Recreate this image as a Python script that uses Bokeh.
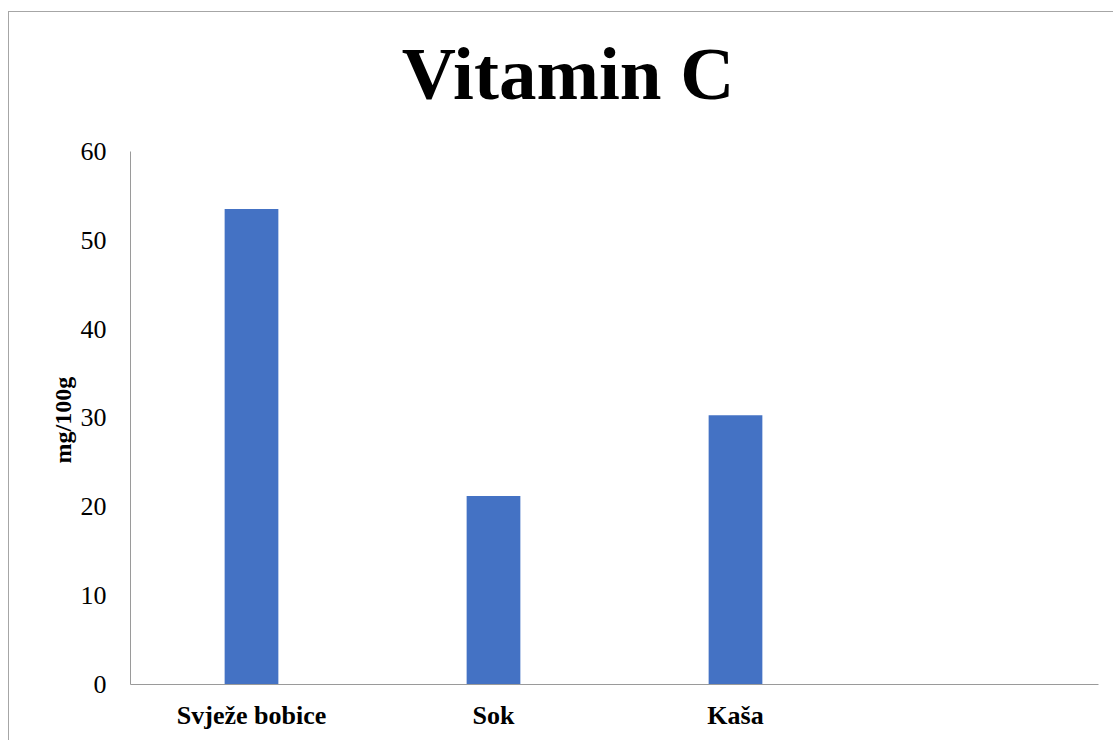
from bokeh.plotting import figure
from bokeh.models import ColumnDataSource, FactorRange, Range1d, FixedTicker, Label, Title
from bokeh.embed import file_html
from bokeh.resources import INLINE

categories = ["Svježe bobice", "Sok", "Kaša"]
values = [53.5, 21.2, 30.3]
axis_factors = categories + [" "]
y_ticks = [0, 10, 20, 30, 40, 50, 60]
title_text = "Vitamin C"
y_label = "mg/100g"

FONT = "Liberation Serif"

src = ColumnDataSource(data=dict(cat=categories, val=values))

# the frame reaches above 60 to hold the title; axis line is bounded to 0..60
p = figure(
    width=1105, height=729,
    x_range=FactorRange(factors=axis_factors, range_padding=0),
    y_range=Range1d(0, 74.5),
    output_backend="svg", toolbar_location=None,
    min_border_left=121, min_border_right=16, min_border_top=10, min_border_bottom=57,
    styles={"border-top": "1px solid #a6a6a6", "border-left": "1px solid #a6a6a6",
            "margin-top": "11px", "margin-left": "8px"},
)

p.vbar(x="cat", top="val", width=0.222, source=src, color="#4472C4", line_color=None)

p.add_layout(Label(
    x=1.808, y=68.8, text=title_text,
    text_font=FONT, text_font_style="bold", text_font_size="75px",
    text_color="black", text_align="center", text_baseline="alphabetic",
))

# y-axis title, centred on the 0..60 part of the axis
p.add_layout(Title(
    text=y_label, align="left", offset=221, standoff=3,
    text_font=FONT, text_font_style="bold", text_font_size="24px",
    text_color="black",
), "left")

p.outline_line_color = None
p.xgrid.grid_line_color = None
p.ygrid.grid_line_color = None
p.background_fill_color = "white"
p.border_fill_color = "white"

ya = p.yaxis[0]
ya.ticker = FixedTicker(ticks=y_ticks)
ya.bounds = (0, 60)
ya.axis_line_color = "#9a9a9a"
ya.major_tick_line_color = None
ya.minor_tick_line_color = None
ya.major_label_text_font = FONT
ya.major_label_text_font_size = "26px"
ya.major_label_text_color = "black"
ya.major_label_standoff = 18

xa = p.xaxis[0]
xa.axis_line_color = "#9a9a9a"
xa.major_tick_line_color = None
xa.minor_tick_line_color = None
xa.major_label_text_font = FONT
xa.major_label_text_font_style = "bold"
xa.major_label_text_font_size = "26px"
xa.major_label_text_color = "black"
xa.major_label_standoff = 10

open("out.html", "w").write(file_html(p, INLINE))
